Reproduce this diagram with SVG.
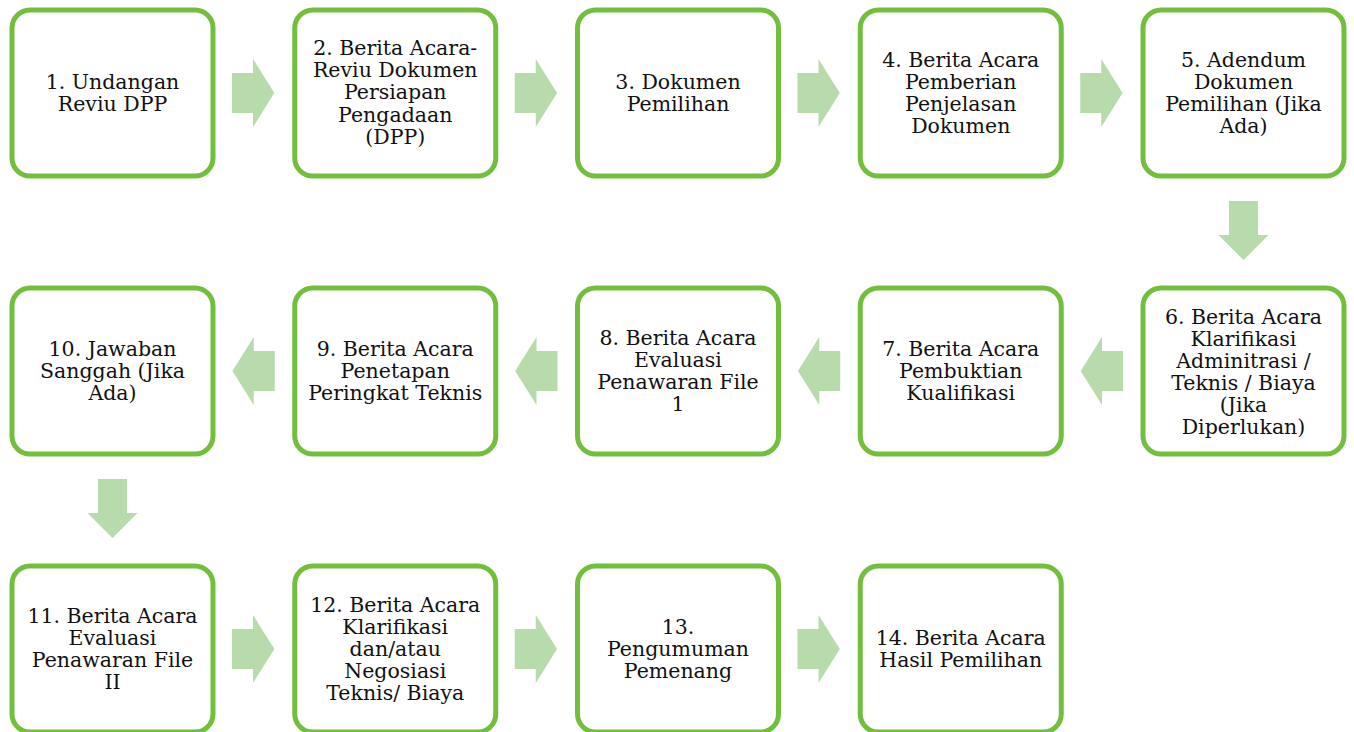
<svg xmlns="http://www.w3.org/2000/svg" width="1354" height="732" viewBox="0 0 1354 732">
<style>
.box{fill:#ffffff;stroke:#72bf3e;stroke-width:5}
.arr{fill:#b8dbac}
text{font-family:"DejaVu Serif","Liberation Serif",serif;font-size:20.5px;fill:#111111;text-anchor:middle}
</style>
<defs>
<path id="ar" class="arr" d="M0,-20 H21 V-34 L42.3,0 L21,34 V20 H0 Z"/>
<path id="ad" class="arr" d="M-14.5,0 V34 H-25 L0,59 L25,34 H14.5 V0 Z"/>
</defs>
<rect width="1354" height="732" fill="#ffffff"/>
<g id="connectors">
<use href="#ar" x="232" y="93"/>
<use href="#ar" x="514.75" y="93"/>
<use href="#ar" x="797.5" y="93"/>
<use href="#ar" x="1080.25" y="93"/>
<use href="#ad" x="1243.5" y="201"/>
<use href="#ar" transform="translate(1123,371) scale(-1,1)"/>
<use href="#ar" transform="translate(840.25,371) scale(-1,1)"/>
<use href="#ar" transform="translate(557.5,371) scale(-1,1)"/>
<use href="#ar" transform="translate(274.75,371) scale(-1,1)"/>
<use href="#ad" x="112.5" y="479"/>
<use href="#ar" x="232" y="649"/>
<use href="#ar" x="514.75" y="649"/>
<use href="#ar" x="797.5" y="649"/>
</g>
<g id="n1"><rect class="box" x="12" y="10" width="201" height="166" rx="18"/>
<text x="112.5" y="89"><tspan x="112.5">1. Undangan</tspan><tspan x="112.5" dy="22.2">Reviu DPP</tspan></text></g>
<g id="n2"><rect class="box" x="294.75" y="10" width="201" height="166" rx="18"/>
<text y="55"><tspan x="395.25">2. Berita Acara-</tspan><tspan x="395.25" dy="22.2">Reviu Dokumen</tspan><tspan x="395.25" dy="22.2">Persiapan</tspan><tspan x="395.25" dy="22.2">Pengadaan</tspan><tspan x="395.25" dy="22.2">(DPP)</tspan></text></g>
<g id="n3"><rect class="box" x="577.5" y="10" width="201" height="166" rx="18"/>
<text y="89"><tspan x="678">3. Dokumen</tspan><tspan x="678" dy="22.2">Pemilihan</tspan></text></g>
<g id="n4"><rect class="box" x="860.25" y="10" width="201" height="166" rx="18"/>
<text y="66.5"><tspan x="960.75">4. Berita Acara</tspan><tspan x="960.75" dy="22.2">Pemberian</tspan><tspan x="960.75" dy="22.2">Penjelasan</tspan><tspan x="960.75" dy="22.2">Dokumen</tspan></text></g>
<g id="n5"><rect class="box" x="1143" y="10" width="201" height="166" rx="18"/>
<text y="66.5"><tspan x="1243.5">5. Adendum</tspan><tspan x="1243.5" dy="22.2">Dokumen</tspan><tspan x="1243.5" dy="22.2">Pemilihan (Jika</tspan><tspan x="1243.5" dy="22.2">Ada)</tspan></text></g>
<g id="n6"><rect class="box" x="1143" y="288" width="201" height="166" rx="18"/>
<text y="323.5"><tspan x="1243.5">6. Berita Acara</tspan><tspan x="1243.5" dy="22">Klarifikasi</tspan><tspan x="1243.5" dy="22">Adminitrasi /</tspan><tspan x="1243.5" dy="22">Teknis / Biaya</tspan><tspan x="1243.5" dy="22">(Jika</tspan><tspan x="1243.5" dy="22">Diperlukan)</tspan></text></g>
<g id="n7"><rect class="box" x="860.25" y="288" width="201" height="166" rx="18"/>
<text y="356"><tspan x="960.75">7. Berita Acara</tspan><tspan x="960.75" dy="22.2">Pembuktian</tspan><tspan x="960.75" dy="22.2">Kualifikasi</tspan></text></g>
<g id="n8"><rect class="box" x="577.5" y="288" width="201" height="166" rx="18"/>
<text y="344.5"><tspan x="678">8. Berita Acara</tspan><tspan x="678" dy="22.2">Evaluasi</tspan><tspan x="678" dy="22.2">Penawaran File</tspan><tspan x="678" dy="22.2">1</tspan></text></g>
<g id="n9"><rect class="box" x="294.75" y="288" width="201" height="166" rx="18"/>
<text y="356"><tspan x="395.25">9. Berita Acara</tspan><tspan x="395.25" dy="22.2">Penetapan</tspan><tspan x="395.25" dy="22.2">Peringkat Teknis</tspan></text></g>
<g id="n10"><rect class="box" x="12" y="288" width="201" height="166" rx="18"/>
<text y="356"><tspan x="112.5">10. Jawaban</tspan><tspan x="112.5" dy="22.2">Sanggah (Jika</tspan><tspan x="112.5" dy="22.2">Ada)</tspan></text></g>
<g id="n11"><rect class="box" x="12" y="566" width="201" height="166" rx="18"/>
<text y="622.5"><tspan x="112.5">11. Berita Acara</tspan><tspan x="112.5" dy="22.2">Evaluasi</tspan><tspan x="112.5" dy="22.2">Penawaran File</tspan><tspan x="112.5" dy="22.2">II</tspan></text></g>
<g id="n12"><rect class="box" x="294.75" y="566" width="201" height="166" rx="18"/>
<text y="611.5"><tspan x="395.25">12. Berita Acara</tspan><tspan x="395.25" dy="22.2">Klarifikasi</tspan><tspan x="395.25" dy="22.2">dan/atau</tspan><tspan x="395.25" dy="22.2">Negosiasi</tspan><tspan x="395.25" dy="22.2">Teknis/ Biaya</tspan></text></g>
<g id="n13"><rect class="box" x="577.5" y="566" width="201" height="166" rx="18"/>
<text y="634"><tspan x="678">13.</tspan><tspan x="678" dy="22.2">Pengumuman</tspan><tspan x="678" dy="22.2">Pemenang</tspan></text></g>
<g id="n14"><rect class="box" x="860.25" y="566" width="201" height="166" rx="18"/>
<text y="645"><tspan x="960.75">14. Berita Acara</tspan><tspan x="960.75" dy="22.2">Hasil Pemilihan</tspan></text></g>
</svg>
